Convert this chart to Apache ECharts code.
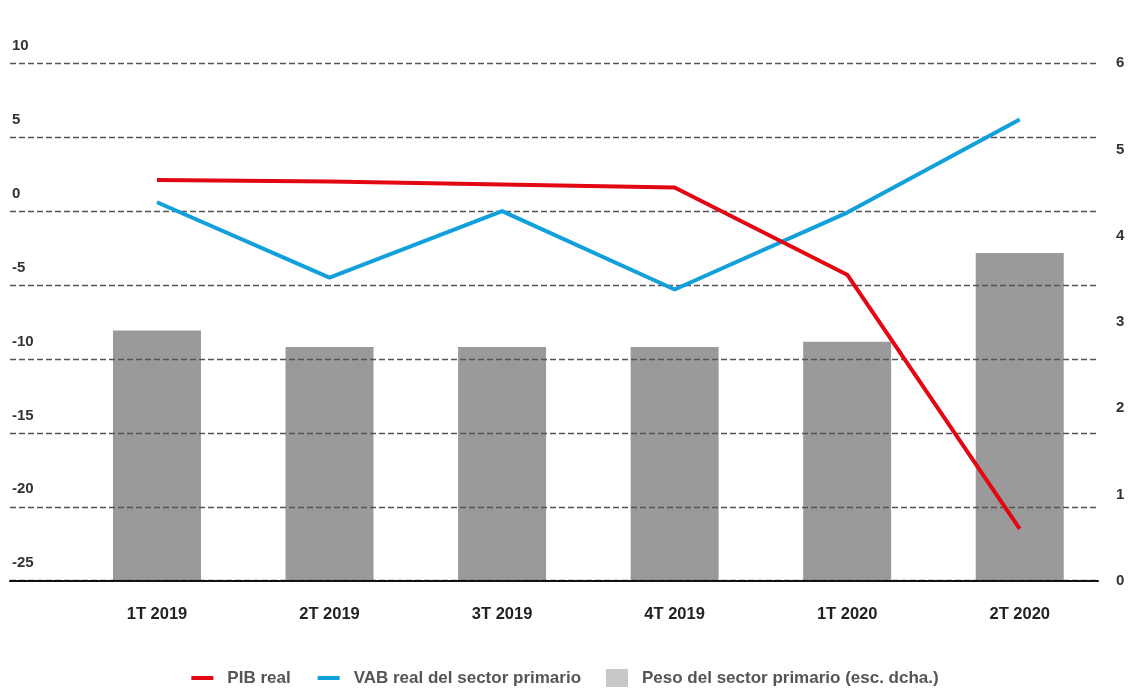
<!DOCTYPE html>
<html>
<head>
<meta charset="utf-8">
<script src="https://cdn.jsdelivr.net/npm/echarts@6/dist/echarts.min.js"></script>
<style>
  html, body { margin: 0; padding: 0; background: #fff; }
  #chart { width: 1128px; height: 688px; }
</style>
</head>
<body>
<div id="chart"></div>
<script>
// ---- data ----
const categories = ['1T 2019', '2T 2019', '3T 2019', '4T 2019', '1T 2020', '2T 2020'];
const pibReal = [2.1, 2.0, 1.8, 1.6, -4.3, -21.5];
const vabPrimario = [0.6, -4.5, 0.0, -5.3, -0.1, 6.2];
const pesoPrimario = [2.90, 2.71, 2.71, 2.71, 2.77, 3.80];
const seriesNames = ['PIB real', 'VAB real del sector primario', 'Peso del sector primario (esc. dcha.)'];
const leftAxis = { min: -25, max: 10, interval: 5 };
const rightAxis = { min: 0, max: 6, interval: 1 };

const FONT = '"Liberation Sans", Arial, sans-serif';
const chart = echarts.init(document.getElementById('chart'), null, { renderer: 'canvas' });

chart.setOption({
  backgroundColor: '#ffffff',
  animation: false,
  textStyle: { fontFamily: FONT },
  grid: [
    { left: 70.7, right: 22, top: 63.3, bottom: 107.3, containLabel: false },
    { left: 10, right: 30, top: 63.3, bottom: 107.3, containLabel: false }
  ],
  legend: {
    left: 'center',
    top: 664,
    itemGap: 25,
    itemWidth: 22,
    itemHeight: 18,
    textStyle: { fontFamily: FONT, fontSize: 17, fontWeight: 'bold', color: '#555', padding: [0, 0, 0, 9] },
    data: [
      { name: seriesNames[0], itemStyle: { opacity: 0 }, lineStyle: { width: 4 } },
      { name: seriesNames[1], itemStyle: { opacity: 0 }, lineStyle: { width: 4 } },
      { name: seriesNames[2], icon: 'rect', itemStyle: { color: '#c8c8c8' } }
    ]
  },
  xAxis: [
    {
      type: 'category',
      gridIndex: 0,
      data: categories,
      boundaryGap: true,
      axisLine: { show: false },
      axisTick: { show: false },
      axisLabel: { margin: 25, fontFamily: FONT, fontSize: 16.5, fontWeight: 'bold', color: '#222' }
    },
    {
      type: 'value',
      gridIndex: 1,
      min: 0, max: 1,
      axisLine: { show: true, onZero: false, lineStyle: { color: '#111', width: 2 } },
      axisTick: { show: false },
      axisLabel: { show: false },
      splitLine: { show: false },
      z: 4
    }
  ],
  yAxis: [
    {
      type: 'value', gridIndex: 0, position: 'left',
      min: leftAxis.min, max: leftAxis.max, interval: leftAxis.interval,
      axisLine: { show: false }, axisTick: { show: false },
      axisLabel: { show: false }, splitLine: { show: false }
    },
    {
      type: 'value', gridIndex: 0, position: 'right',
      min: rightAxis.min, max: rightAxis.max, interval: rightAxis.interval,
      axisLine: { show: false }, axisTick: { show: false },
      axisLabel: { margin: 10, fontFamily: FONT, fontSize: 15, fontWeight: 'bold', color: '#333' },
      splitLine: { show: false }
    },
    {
      type: 'value', gridIndex: 1, position: 'left',
      min: leftAxis.min, max: leftAxis.max, interval: leftAxis.interval,
      axisLine: { show: false }, axisTick: { show: false },
      axisLabel: {
        inside: true, margin: 2,
        verticalAlign: 'bottom', padding: [0, 0, 10, 0],
        fontFamily: FONT, fontSize: 15, fontWeight: 'bold', color: '#333'
      },
      splitLine: { show: true, lineStyle: { color: '#555', width: 1.4, type: [6, 3] } },
      z: 3
    }
  ],
  series: [
    {
      name: seriesNames[2],
      type: 'bar',
      xAxisIndex: 0, yAxisIndex: 1,
      data: pesoPrimario,
      barWidth: 88,
      itemStyle: { color: '#9a9a9a' },
      z: 2
    },
    {
      name: seriesNames[0],
      type: 'line',
      xAxisIndex: 0, yAxisIndex: 0,
      data: pibReal,
      symbol: 'none',
      lineStyle: { color: '#e30613', width: 4 },
      itemStyle: { color: '#e30613' },
      z: 6
    },
    {
      name: seriesNames[1],
      type: 'line',
      xAxisIndex: 0, yAxisIndex: 0,
      data: vabPrimario,
      symbol: 'none',
      lineStyle: { color: '#12a0dc', width: 4 },
      itemStyle: { color: '#12a0dc' },
      z: 5
    }
  ]
});
</script>
</body>
</html>
